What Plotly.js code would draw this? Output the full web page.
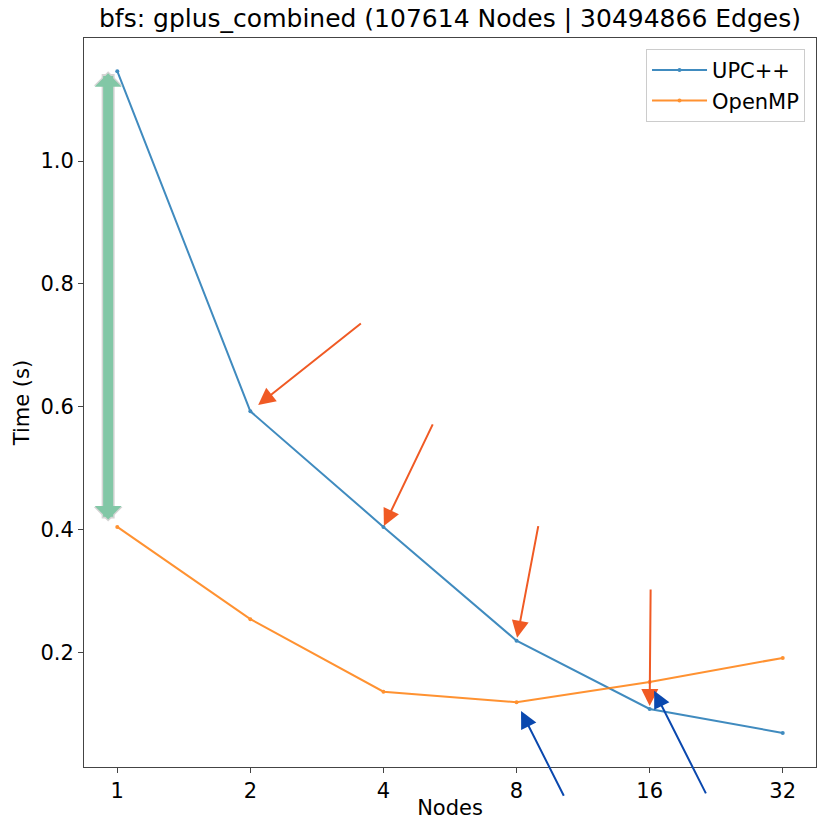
<!DOCTYPE html>
<html>
<head>
<meta charset="utf-8">
<script src="https://cdn.plot.ly/plotly-3.0.1.min.js"></script>
<style>html,body{margin:0;padding:0;background:#fff;}#chart{width:821px;height:820px;}</style>
</head>
<body>
<div id="chart"></div>
<script>
// Data
const nodes = [1, 2, 4, 8, 16, 32];
const tickLabels = ["1", "2", "4", "8", "16", "32"];
const upcTime = [1.146, 0.593, 0.405, 0.220, 0.109, 0.070];
const openmpTime = [0.405, 0.255, 0.137, 0.120, 0.153, 0.192];
const seriesNames = ["UPC++", "OpenMP"];
const titleText = "bfs: gplus_combined (107614 Nodes | 30494866 Edges)";

const FONT = "DejaVu Sans, sans-serif";
const blue = "#1f77b4", orange = "#ff7f0e";
const arrowOrange = "#f05a24", arrowBlue = "#0a48ae";

const traces = [
  {x: nodes, y: upcTime, name: seriesNames[0], type: "scatter", mode: "lines+markers",
   line: {color: blue, width: 2}, marker: {color: blue, size: 4}, opacity: 0.85},
  {x: nodes, y: openmpTime, name: seriesNames[1], type: "scatter", mode: "lines+markers",
   line: {color: orange, width: 2}, marker: {color: orange, size: 4}, opacity: 0.85}
];

const lx = v => Math.log10(v);
function pointArrow(xv, yv, ax, ay, color, standoff) {
  return {x: lx(xv), y: yv, xref: "x", yref: "y", text: "", showarrow: true,
    ax: ax, ay: ay, arrowhead: 2, arrowsize: 1.7, arrowwidth: 2, arrowcolor: color, standoff: standoff};
}
function spanArrow(color, width, size, so, sso) {
  return {x: 0.033, xref: "paper", y: upcTime[0], yref: "y",
    ax: 0, axref: "pixel", ay: openmpTime[0], ayref: "y",
    text: "", showarrow: true, arrowside: "end+start",
    arrowhead: 1, startarrowhead: 1, arrowsize: size, startarrowsize: size,
    arrowwidth: width, arrowcolor: color, standoff: so, startstandoff: sso};
}

const annotations = [
  spanArrow("#d4d4d4", 13, 0.37, 0, 4),
  spanArrow("#82c7a6", 10, 0.45, 2, 6),
  pointArrow(nodes[1], upcTime[1], 112, -89, arrowOrange, 10),
  pointArrow(nodes[2], upcTime[2], 50, -104, arrowOrange, 1),
  pointArrow(nodes[3], upcTime[3], 22, -116, arrowOrange, 3),
  pointArrow(nodes[4], upcTime[4], 1, -121, arrowOrange, 3),
  pointArrow(nodes[3], openmpTime[3], 48, 95, arrowBlue, 10),
  pointArrow(nodes[4], openmpTime[4], 57, 113, arrowBlue, 10)
];

const layout = {
  width: 821, height: 820,
  paper_bgcolor: "#fff", plot_bgcolor: "#fff",
  margin: {l: 84, r: 5, t: 38, b: 53},
  font: {family: FONT, size: 21, color: "#000"},
  title: {text: titleText, font: {family: FONT, size: 25, color: "#000"},
          x: 0.5, xref: "paper", xanchor: "center", y: 0.978, yref: "container", yanchor: "middle"},
  xaxis: {type: "log", range: [lx(nodes[0]) - 0.25 * Math.log10(2), lx(nodes[5]) + 0.25 * Math.log10(2)],
          tickvals: nodes, ticktext: tickLabels, showgrid: false, zeroline: false,
          showline: true, mirror: true, linecolor: "#444", linewidth: 1,
          ticks: "outside", ticklen: 5, tickcolor: "#444", tickfont: {size: 21},
          title: {text: "Nodes", font: {size: 21}, standoff: 4}},
  yaxis: {range: [0.0146, 1.2], tickvals: [0.2, 0.4, 0.6, 0.8, 1.0], tickformat: ".1f",
          showgrid: false, zeroline: false, showline: true, mirror: true, linecolor: "#444", linewidth: 1,
          ticks: "outside", ticklen: 5, tickcolor: "#444", tickfont: {size: 21},
          title: {text: "Time (s)", font: {size: 21}, standoff: 5}},
  legend: {x: 0.985, y: 0.985, xanchor: "right", yanchor: "top", bgcolor: "rgba(255,255,255,0.8)",
           bordercolor: "#cccccc", borderwidth: 1, font: {size: 21}, itemwidth: 55},
  showlegend: true,
  annotations: annotations
};

Plotly.newPlot("chart", traces, layout, {staticPlot: true});
</script>
</body>
</html>
